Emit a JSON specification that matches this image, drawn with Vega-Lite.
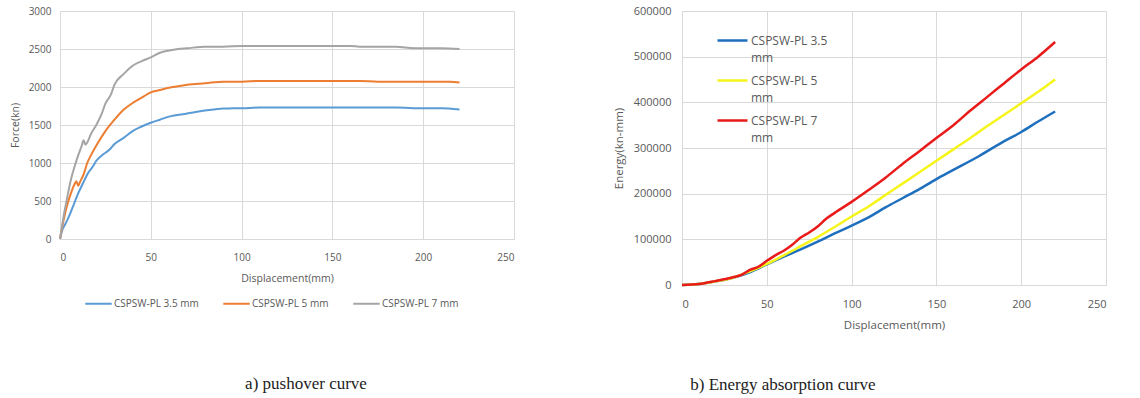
{
"$schema": "https://vega.github.io/schema/vega-lite/v6.json",
"background": "white",
"padding": {"left": 10, "top": 5, "right": 5, "bottom": 5},
"config": {
  "view": {"stroke": null},
  "font": "Open Sans",
  "style": {"guide-label": {"lineHeight": 17}},
  "axis": {"gridColor": "#d9d9d9", "domainColor": "#d9d9d9", "ticks": false, "labelColor": "#595959", "titleColor": "#595959", "labelFont": "Open Sans", "titleFont": "Open Sans", "labelFontSize": 10, "titleFontSize": 10.5, "titleFontWeight": "normal", "labelPadding": 7},
  "title": {"font": "Liberation Serif", "fontSize": 17, "fontWeight": "normal", "color": "#222222"}
},
"spacing": 99,
"datasets": {
  "push": [
    {"d":0,"F":0,"s":"CSPSW-PL 3.5 mm"},{"d":1,"F":100,"s":"CSPSW-PL 3.5 mm"},{"d":3,"F":200,"s":"CSPSW-PL 3.5 mm"},{"d":5,"F":300,"s":"CSPSW-PL 3.5 mm"},{"d":8,"F":480,"s":"CSPSW-PL 3.5 mm"},{"d":10,"F":600,"s":"CSPSW-PL 3.5 mm"},{"d":13,"F":750,"s":"CSPSW-PL 3.5 mm"},{"d":15,"F":850,"s":"CSPSW-PL 3.5 mm"},{"d":18,"F":950,"s":"CSPSW-PL 3.5 mm"},{"d":20,"F":1030,"s":"CSPSW-PL 3.5 mm"},{"d":23,"F":1100,"s":"CSPSW-PL 3.5 mm"},{"d":27,"F":1170,"s":"CSPSW-PL 3.5 mm"},{"d":30,"F":1250,"s":"CSPSW-PL 3.5 mm"},{"d":35,"F":1330,"s":"CSPSW-PL 3.5 mm"},{"d":40,"F":1420,"s":"CSPSW-PL 3.5 mm"},{"d":45,"F":1480,"s":"CSPSW-PL 3.5 mm"},{"d":50,"F":1530,"s":"CSPSW-PL 3.5 mm"},{"d":55,"F":1570,"s":"CSPSW-PL 3.5 mm"},{"d":60,"F":1610,"s":"CSPSW-PL 3.5 mm"},{"d":70,"F":1650,"s":"CSPSW-PL 3.5 mm"},{"d":80,"F":1690,"s":"CSPSW-PL 3.5 mm"},{"d":90,"F":1718,"s":"CSPSW-PL 3.5 mm"},{"d":100,"F":1720,"s":"CSPSW-PL 3.5 mm"},{"d":110,"F":1730,"s":"CSPSW-PL 3.5 mm"},{"d":150,"F":1730,"s":"CSPSW-PL 3.5 mm"},{"d":185,"F":1730,"s":"CSPSW-PL 3.5 mm"},{"d":200,"F":1720,"s":"CSPSW-PL 3.5 mm"},{"d":210,"F":1720,"s":"CSPSW-PL 3.5 mm"},{"d":220,"F":1705,"s":"CSPSW-PL 3.5 mm"},
    {"d":0,"F":0,"s":"CSPSW-PL 5 mm"},{"d":2,"F":250,"s":"CSPSW-PL 5 mm"},{"d":4,"F":450,"s":"CSPSW-PL 5 mm"},{"d":6,"F":600,"s":"CSPSW-PL 5 mm"},{"d":8,"F":720,"s":"CSPSW-PL 5 mm"},{"d":9,"F":760,"s":"CSPSW-PL 5 mm"},{"d":10,"F":700,"s":"CSPSW-PL 5 mm"},{"d":11,"F":750,"s":"CSPSW-PL 5 mm"},{"d":13,"F":850,"s":"CSPSW-PL 5 mm"},{"d":15,"F":1000,"s":"CSPSW-PL 5 mm"},{"d":17,"F":1100,"s":"CSPSW-PL 5 mm"},{"d":20,"F":1230,"s":"CSPSW-PL 5 mm"},{"d":25,"F":1420,"s":"CSPSW-PL 5 mm"},{"d":30,"F":1570,"s":"CSPSW-PL 5 mm"},{"d":35,"F":1700,"s":"CSPSW-PL 5 mm"},{"d":40,"F":1790,"s":"CSPSW-PL 5 mm"},{"d":45,"F":1860,"s":"CSPSW-PL 5 mm"},{"d":50,"F":1930,"s":"CSPSW-PL 5 mm"},{"d":55,"F":1960,"s":"CSPSW-PL 5 mm"},{"d":60,"F":1990,"s":"CSPSW-PL 5 mm"},{"d":65,"F":2010,"s":"CSPSW-PL 5 mm"},{"d":70,"F":2030,"s":"CSPSW-PL 5 mm"},{"d":80,"F":2050,"s":"CSPSW-PL 5 mm"},{"d":90,"F":2070,"s":"CSPSW-PL 5 mm"},{"d":100,"F":2070,"s":"CSPSW-PL 5 mm"},{"d":110,"F":2080,"s":"CSPSW-PL 5 mm"},{"d":150,"F":2080,"s":"CSPSW-PL 5 mm"},{"d":165,"F":2080,"s":"CSPSW-PL 5 mm"},{"d":175,"F":2070,"s":"CSPSW-PL 5 mm"},{"d":200,"F":2070,"s":"CSPSW-PL 5 mm"},{"d":215,"F":2070,"s":"CSPSW-PL 5 mm"},{"d":220,"F":2060,"s":"CSPSW-PL 5 mm"},
    {"d":0,"F":0,"s":"CSPSW-PL 7 mm"},{"d":2,"F":300,"s":"CSPSW-PL 7 mm"},{"d":4,"F":550,"s":"CSPSW-PL 7 mm"},{"d":6,"F":780,"s":"CSPSW-PL 7 mm"},{"d":8,"F":950,"s":"CSPSW-PL 7 mm"},{"d":10,"F":1100,"s":"CSPSW-PL 7 mm"},{"d":12,"F":1230,"s":"CSPSW-PL 7 mm"},{"d":13,"F":1300,"s":"CSPSW-PL 7 mm"},{"d":14,"F":1240,"s":"CSPSW-PL 7 mm"},{"d":15,"F":1270,"s":"CSPSW-PL 7 mm"},{"d":17,"F":1380,"s":"CSPSW-PL 7 mm"},{"d":20,"F":1500,"s":"CSPSW-PL 7 mm"},{"d":23,"F":1650,"s":"CSPSW-PL 7 mm"},{"d":25,"F":1780,"s":"CSPSW-PL 7 mm"},{"d":28,"F":1900,"s":"CSPSW-PL 7 mm"},{"d":30,"F":2030,"s":"CSPSW-PL 7 mm"},{"d":35,"F":2170,"s":"CSPSW-PL 7 mm"},{"d":40,"F":2280,"s":"CSPSW-PL 7 mm"},{"d":45,"F":2340,"s":"CSPSW-PL 7 mm"},{"d":50,"F":2390,"s":"CSPSW-PL 7 mm"},{"d":55,"F":2450,"s":"CSPSW-PL 7 mm"},{"d":60,"F":2480,"s":"CSPSW-PL 7 mm"},{"d":65,"F":2500,"s":"CSPSW-PL 7 mm"},{"d":70,"F":2510,"s":"CSPSW-PL 7 mm"},{"d":80,"F":2530,"s":"CSPSW-PL 7 mm"},{"d":90,"F":2530,"s":"CSPSW-PL 7 mm"},{"d":100,"F":2540,"s":"CSPSW-PL 7 mm"},{"d":150,"F":2540,"s":"CSPSW-PL 7 mm"},{"d":160,"F":2540,"s":"CSPSW-PL 7 mm"},{"d":165,"F":2530,"s":"CSPSW-PL 7 mm"},{"d":185,"F":2530,"s":"CSPSW-PL 7 mm"},{"d":195,"F":2510,"s":"CSPSW-PL 7 mm"},{"d":210,"F":2510,"s":"CSPSW-PL 7 mm"},{"d":220,"F":2500,"s":"CSPSW-PL 7 mm"}
  ],
  "energy": [
    {"d":0,"E":0,"s":"CSPSW-PL 3.5 mm"},{"d":10,"E":2000,"s":"CSPSW-PL 3.5 mm"},{"d":20,"E":8000,"s":"CSPSW-PL 3.5 mm"},{"d":30,"E":16000,"s":"CSPSW-PL 3.5 mm"},{"d":40,"E":28000,"s":"CSPSW-PL 3.5 mm"},{"d":50,"E":45000,"s":"CSPSW-PL 3.5 mm"},{"d":60,"E":62000,"s":"CSPSW-PL 3.5 mm"},{"d":70,"E":78000,"s":"CSPSW-PL 3.5 mm"},{"d":80,"E":95000,"s":"CSPSW-PL 3.5 mm"},{"d":90,"E":113000,"s":"CSPSW-PL 3.5 mm"},{"d":100,"E":130000,"s":"CSPSW-PL 3.5 mm"},{"d":110,"E":148000,"s":"CSPSW-PL 3.5 mm"},{"d":120,"E":170000,"s":"CSPSW-PL 3.5 mm"},{"d":130,"E":190000,"s":"CSPSW-PL 3.5 mm"},{"d":140,"E":210000,"s":"CSPSW-PL 3.5 mm"},{"d":150,"E":232000,"s":"CSPSW-PL 3.5 mm"},{"d":160,"E":252000,"s":"CSPSW-PL 3.5 mm"},{"d":175,"E":282000,"s":"CSPSW-PL 3.5 mm"},{"d":190,"E":315000,"s":"CSPSW-PL 3.5 mm"},{"d":200,"E":335000,"s":"CSPSW-PL 3.5 mm"},{"d":210,"E":358000,"s":"CSPSW-PL 3.5 mm"},{"d":220,"E":380000,"s":"CSPSW-PL 3.5 mm"},
    {"d":0,"E":0,"s":"CSPSW-PL 5 mm"},{"d":10,"E":2000,"s":"CSPSW-PL 5 mm"},{"d":20,"E":8000,"s":"CSPSW-PL 5 mm"},{"d":30,"E":16000,"s":"CSPSW-PL 5 mm"},{"d":40,"E":30000,"s":"CSPSW-PL 5 mm"},{"d":50,"E":46000,"s":"CSPSW-PL 5 mm"},{"d":60,"E":65000,"s":"CSPSW-PL 5 mm"},{"d":70,"E":85000,"s":"CSPSW-PL 5 mm"},{"d":80,"E":105000,"s":"CSPSW-PL 5 mm"},{"d":90,"E":127000,"s":"CSPSW-PL 5 mm"},{"d":100,"E":150000,"s":"CSPSW-PL 5 mm"},{"d":110,"E":172000,"s":"CSPSW-PL 5 mm"},{"d":120,"E":197000,"s":"CSPSW-PL 5 mm"},{"d":130,"E":222000,"s":"CSPSW-PL 5 mm"},{"d":140,"E":247000,"s":"CSPSW-PL 5 mm"},{"d":150,"E":272000,"s":"CSPSW-PL 5 mm"},{"d":160,"E":297000,"s":"CSPSW-PL 5 mm"},{"d":170,"E":322000,"s":"CSPSW-PL 5 mm"},{"d":180,"E":348000,"s":"CSPSW-PL 5 mm"},{"d":190,"E":373000,"s":"CSPSW-PL 5 mm"},{"d":200,"E":398000,"s":"CSPSW-PL 5 mm"},{"d":210,"E":423000,"s":"CSPSW-PL 5 mm"},{"d":220,"E":450000,"s":"CSPSW-PL 5 mm"},
    {"d":0,"E":0,"s":"CSPSW-PL 7 mm"},{"d":10,"E":2000,"s":"CSPSW-PL 7 mm"},{"d":20,"E":9000,"s":"CSPSW-PL 7 mm"},{"d":30,"E":17000,"s":"CSPSW-PL 7 mm"},{"d":35,"E":22000,"s":"CSPSW-PL 7 mm"},{"d":40,"E":33000,"s":"CSPSW-PL 7 mm"},{"d":45,"E":40000,"s":"CSPSW-PL 7 mm"},{"d":50,"E":53000,"s":"CSPSW-PL 7 mm"},{"d":55,"E":65000,"s":"CSPSW-PL 7 mm"},{"d":60,"E":75000,"s":"CSPSW-PL 7 mm"},{"d":65,"E":88000,"s":"CSPSW-PL 7 mm"},{"d":70,"E":104000,"s":"CSPSW-PL 7 mm"},{"d":75,"E":115000,"s":"CSPSW-PL 7 mm"},{"d":80,"E":128000,"s":"CSPSW-PL 7 mm"},{"d":85,"E":145000,"s":"CSPSW-PL 7 mm"},{"d":90,"E":158000,"s":"CSPSW-PL 7 mm"},{"d":100,"E":182000,"s":"CSPSW-PL 7 mm"},{"d":110,"E":208000,"s":"CSPSW-PL 7 mm"},{"d":120,"E":235000,"s":"CSPSW-PL 7 mm"},{"d":130,"E":265000,"s":"CSPSW-PL 7 mm"},{"d":140,"E":293000,"s":"CSPSW-PL 7 mm"},{"d":150,"E":322000,"s":"CSPSW-PL 7 mm"},{"d":160,"E":350000,"s":"CSPSW-PL 7 mm"},{"d":170,"E":382000,"s":"CSPSW-PL 7 mm"},{"d":180,"E":412000,"s":"CSPSW-PL 7 mm"},{"d":190,"E":442000,"s":"CSPSW-PL 7 mm"},{"d":200,"E":472000,"s":"CSPSW-PL 7 mm"},{"d":210,"E":500000,"s":"CSPSW-PL 7 mm"},{"d":220,"E":532000,"s":"CSPSW-PL 7 mm"}
  ]
},
"resolve": {"scale": {"color": "independent"}, "legend": {"color": "independent"}},
"hconcat": [
  {
    "width": 454, "height": 228,
    "data": {"name": "push"},
    "title": {"text": "a) pushover curve", "orient": "bottom", "anchor": "middle", "dx": 19, "offset": 67},
    "mark": {"type": "line", "strokeWidth": 2, "interpolate": "monotone"},
    "encoding": {
      "x": {"field": "d", "type": "quantitative", "scale": {"domain": [0, 250], "nice": false}, "axis": {"values": [0, 50, 100, 150, 200, 250], "title": "Displacement(mm)", "labelPadding": 13, "titlePadding": 11}},
      "y": {"field": "F", "type": "quantitative", "scale": {"domain": [0, 3000], "nice": false}, "axis": {"values": [0, 500, 1000, 1500, 2000, 2500, 3000], "format": "d", "title": "Force(kn)", "labelPadding": 9, "titlePadding": 8}},
      "color": {"field": "s", "type": "nominal", "scale": {"domain": ["CSPSW-PL 3.5 mm", "CSPSW-PL 5 mm", "CSPSW-PL 7 mm"], "range": ["#5B9BD5", "#ED7D31", "#A5A5A5"]},
        "legend": {"title": null, "orient": "none", "direction": "horizontal", "legendX": 24, "legendY": 278, "symbolType": "stroke", "symbolSize": 700, "symbolStrokeWidth": 2, "labelFontSize": 10, "labelColor": "#595959", "labelOffset": 1, "columnPadding": 20}}
    }
  },
  {
    "width": 424, "height": 274,
    "data": {"name": "energy"},
    "title": {"text": "b) Energy absorption curve", "orient": "bottom", "anchor": "start", "dx": 77, "offset": 46},
    "mark": {"type": "line", "strokeWidth": 2.5, "interpolate": "monotone"},
    "encoding": {
      "x": {"field": "d", "type": "quantitative", "scale": {"domain": [0, 250], "nice": false}, "axis": {"values": [0, 50, 100, 150, 200, 250], "title": "Displacement(mm)", "labelFontSize": 11, "titleFontSize": 11.5, "labelPadding": 13, "titlePadding": 10}},
      "y": {"field": "E", "type": "quantitative", "scale": {"domain": [0, 600000], "nice": false}, "axis": {"values": [0, 100000, 200000, 300000, 400000, 500000, 600000], "format": "d", "title": "Energy(kn-mm)", "labelFontSize": 11, "titleFontSize": 11.5, "labelPadding": 11, "titlePadding": 9}},
      "color": {"field": "s", "type": "nominal", "scale": {"domain": ["CSPSW-PL 3.5 mm", "CSPSW-PL 5 mm", "CSPSW-PL 7 mm"], "range": ["#1F6FBF", "#F5F51A", "#E81A1A"]},
        "legend": {"title": null, "orient": "none", "legendX": 34, "legendY": 13, "symbolType": "stroke", "symbolSize": 900, "symbolStrokeWidth": 2.5, "labelFontSize": 12, "labelColor": "#595959", "labelOffset": 2, "rowPadding": -6, "labelExpr": "[replace(datum.label, ' mm', ''), 'mm']"}}
    }
  }
]
}
